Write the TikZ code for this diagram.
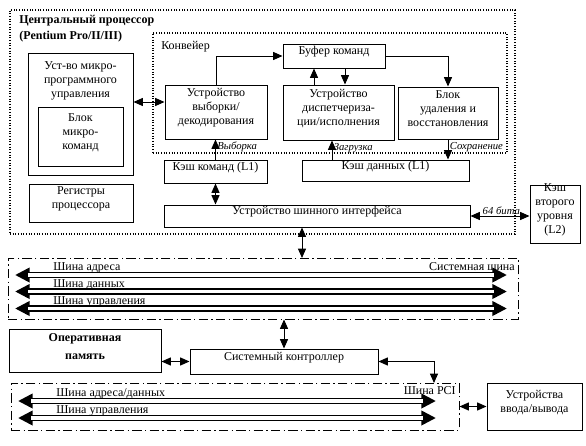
\documentclass[tikz,border=0pt]{standalone}
\usepackage{fontspec}
\setmainfont{Liberation Serif}
\usetikzlibrary{arrows.meta,fit}

\tikzset{
  box/.style={draw, line width=0.75pt, inner sep=0pt, align=center},
  dotbox/.style={draw, line width=0.8pt, dash pattern=on 0.8pt off 1.2pt, inner sep=0pt},
  busbox/.style={draw, line width=0.75pt, dash pattern=on 7pt off 2.5pt on 1pt off 2.5pt, inner sep=0pt},
  link/.style={line width=0.75pt, {Triangle[length=7pt,width=6pt]}-{Triangle[length=7pt,width=6pt]}},
  onelink/.style={line width=0.75pt, -{Triangle[length=7pt,width=6pt]}},
  bus/.style={line width=4.9pt,
    {Triangle[length=11pt,width=10.5pt]}-{Triangle[length=11pt,width=10.5pt]}},
  busgap/.style={white, line width=2.3pt, shorten <=10pt, shorten >=10pt},
  lab/.style={font=\itshape\fontsize{8}{9}\selectfont, inner sep=1pt},
  txt/.style={inner sep=0pt, align=center}
}

\begin{document}
\begin{tikzpicture}[x=0.75pt, y=-0.75pt, font=\fontsize{9}{10.5}\selectfont]
  \useasboundingbox (0,0) rectangle (586,446);

  % containers
  \node[dotbox, fit={(10,10) (515,234)}] (cpu) {};
  \node[dotbox, fit={(153,33) (507,153)}] (conv) {};
  \node[busbox, fit={(8,258) (518,319)}] (sysbus) {};
  \node[busbox, fit={(11,383) (459,430)}] (pcibus) {};

  \node[txt, anchor=north west, align=left, font=\bfseries\fontsize{9}{12}\selectfont]
    (cputitle) at (19,15) {Центральный процессор\\(Pentium Pro/II/III)};
  \node[txt, anchor=west] (convtitle) at (161,47) {Конвейер};
  \node[txt, anchor=east] (systitle) at (515,267) {Системная шина};
  \node[txt, anchor=east] (pcititle) at (456,391) {Шина PCI};

  % processor units
  \node[box, fit={(28,53) (133,175)}] (mpu) {};
  \node[txt, anchor=north] (mputext) at (80.5,61) {Уст-во микро-\\программного\\управления};
  \node[box, fit={(38,107) (123,166)}] (mcb) {Блок\\микро-\\команд};
  \node[box, fit={(29,184) (133,222)}] (reg) {Регистры\\процессора};
  \node[box, fit={(165,85) (267,139)}] (fetch) {Устройство\\выборки/\\декодирования};
  \node[box, fit={(283,44) (385,68)}] (buf) {Буфер команд};
  \node[box, fit={(283,85) (394,140)}] (disp) {Устройство\\диспетчериза-\\ции/исполнения};
  \node[box, fit={(398,87) (498,139)}] (ret) {Блок\\удаления и\\восстановления};
  \node[box, fit={(164,160) (267,183)}] (icache) {Кэш команд (L1)};
  \node[box, fit={(302,160) (469,181)}] (dcache) {Кэш данных (L1)};
  \node[box, fit={(164,205) (470,227)}] (biu) {Устройство шинного интерфейса};
  \node[box, fit={(530,185) (580,243)}] (l2) {Кэш\\второго\\уровня\\(L2)};

  % system units
  \node[box, fit={(9,329) (161,372)}, font=\bfseries\fontsize{9}{14}\selectfont] (mem) {Оперативная\\память};
  \node[box, fit={(190,349) (378,374)}] (ctrl) {Системный контроллер};
  \node[box, fit={(487,383) (582,430)}] (io) {Устройства\\ввода/вывода};

  % free ends
  \coordinate (upb) at (314,85);
  \coordinate (dnb) at (345,68);
  \coordinate (ld) at (332,160);
  \coordinate (bs) at (302,258);
  \coordinate (pt) at (434,383);

  % connectors inside the processor
  \draw[link] ([yshift=7.5pt]fetch.west) -- ([yshift=7.5pt]fetch.west -| mpu.east);
  \draw[onelink] (fetch.north) |- (buf.west);
  \draw[onelink] (buf.east) -| (ret.north);
  \draw[onelink] (upb) -- (upb |- buf.south);
  \draw[onelink] (dnb) -- (dnb |- disp.north);
  \draw[onelink] (icache.north) -- (icache.north |- fetch.south)
    node[lab, pos=0.62, anchor=west] (lfetch) {Выборка};
  \draw[onelink] (ld) -- (ld |- disp.south)
    node[lab, pos=0.62, anchor=west] (lload) {Загрузка};
  \draw[onelink] (ret.south) -- (ret.south |- dcache.north)
    node[lab, pos=0.38, anchor=west] (lstore) {Сохранение};
  \draw[link] (icache.south) -- (icache.south |- biu.north);
  \draw[link] (biu.east) -- (biu.east -| l2.west)
    node[lab, midway, anchor=south, xshift=1pt] (lwidth) {64 бита};
  \draw[link] (biu.south -| bs) -- (bs);

  % system bus
  \coordinate (ab-l) at (15,275);
  \coordinate (ab-r) at (507,275);
  \coordinate (db-l) at (15,291.5);
  \coordinate (db-r) at (507,291.5);
  \coordinate (cb-l) at (15,308.5);
  \coordinate (cb-r) at (507,308.5);
  \draw[bus] (ab-l) -- (ab-r);
  \draw[busgap] (ab-l) -- (ab-r);
  \draw[bus] (db-l) -- (db-r);
  \draw[busgap] (db-l) -- (db-r);
  \draw[bus] (cb-l) -- (cb-r);
  \draw[busgap] (cb-l) -- (cb-r);
  \node[txt, anchor=base west] (ablab) at (53,270) {Шина адреса};
  \node[txt, anchor=base west] (dblab) at (53,287) {Шина данных};
  \node[txt, anchor=base west] (cblab) at (53,304) {Шина управления};

  % PCI bus
  \coordinate (pa-l) at (18,401);
  \coordinate (pa-r) at (436,401);
  \coordinate (pc-l) at (18,418);
  \coordinate (pc-r) at (436,418);
  \draw[bus] (pa-l) -- (pa-r);
  \draw[busgap] (pa-l) -- (pa-r);
  \draw[bus] (pc-l) -- (pc-r);
  \draw[busgap] (pc-l) -- (pc-r);
  \node[txt, anchor=base west] (palab) at (56,396) {Шина адреса/данных};
  \node[txt, anchor=base west] (pclab) at (56,413) {Шина управления};

  % system connectors
  \draw[link] (ctrl.north) -- (ctrl.north |- sysbus.south);
  \draw[link] (ctrl.west) -- (ctrl.west -| mem.east);
  \draw[link] (ctrl.east) -| (pt);
  \draw[link] (io.west) -- (io.west -| pcibus.east);
\end{tikzpicture}
\end{document}
